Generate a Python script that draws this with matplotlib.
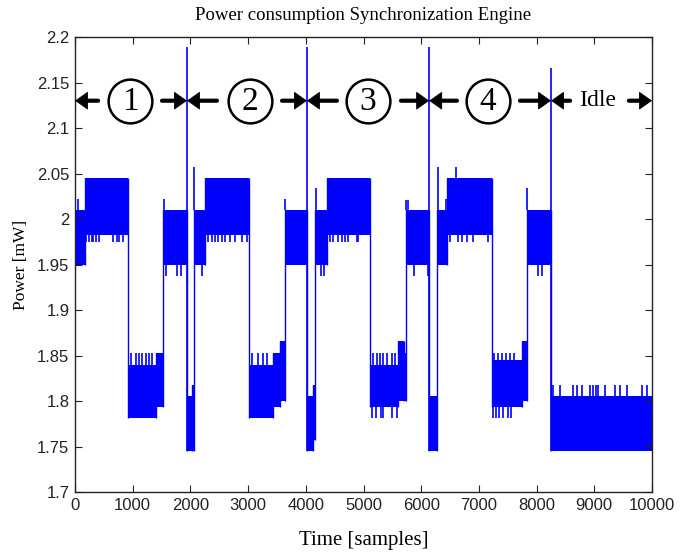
import matplotlib
matplotlib.use('Agg')
import matplotlib.pyplot as plt
from matplotlib.ticker import FixedLocator, FixedFormatter

# ---------------- data ----------------
# blocks of the (dense, oscillating) power trace: sample range and min/max power [mW]
band_start = [0, 170, 918, 1400, 1525, 1941, 2030, 2062, 2250, 3016, 3430, 3560,
              3640, 4020, 4120, 4160, 4365, 5113, 5600, 5700, 5736, 6140, 6270,
              6440, 7225, 7750, 7830, 8250]
band_end = [170, 918, 1400, 1525, 1941, 2030, 2062, 2250, 3016, 3430, 3560, 3640,
            4020, 4120, 4160, 4365, 5113, 5600, 5700, 5736, 6140, 6270, 6440,
            7225, 7750, 7830, 8250, 10000]
band_low = [1.950, 1.982, 1.781, 1.793, 1.950, 1.745, 1.745, 1.950, 1.982, 1.781, 1.793, 1.800,
            1.950, 1.745, 1.757, 1.950, 1.982, 1.793, 1.800, 1.800, 1.950, 1.745, 1.950,
            1.982, 1.793, 1.800, 1.950, 1.745]
band_high = [2.010, 2.045, 1.840, 1.853, 2.010, 1.805, 1.818, 2.010, 2.045, 1.840, 1.853, 1.866,
             2.010, 1.805, 1.818, 2.010, 2.045, 1.840, 1.866, 1.853, 2.010, 1.805, 2.010,
             2.045, 1.845, 1.866, 2.010, 1.805]

# isolated spikes of the trace
spike_x = [50, 1540, 1941, 2070, 3645, 4020, 4175, 5745, 5775, 6138, 6285, 6430, 6600, 7840, 8250]
spike_base = [2.010, 2.010, 1.745, 2.010, 2.010, 1.745, 2.010, 2.010, 2.010, 1.745, 2.010, 2.010, 2.045, 2.010, 1.745]
spike_top = [2.022, 2.022, 2.189, 2.057, 2.022, 2.189, 2.034, 2.021, 2.021, 2.189, 2.057, 2.022, 2.057, 2.034, 2.166]

# short excursions (teeth) outside the main band
tooth_x = [190, 250, 290, 320, 365, 420, 665, 720, 765, 835,
           2310, 2370, 2425, 2485, 2540, 2600, 2685, 2775, 2890, 2975,
           4420, 4480, 4560, 4620, 4680, 4730, 4890, 4905,
           6500, 6640, 6700, 6800, 6900, 7160,
           970, 1057, 1109, 1161, 1230, 1290, 1335,
           3060, 3175, 3265, 3320,
           5170, 5230, 5285, 5345, 5400, 5490, 5545,
           7260, 7330, 7400, 7470, 7540, 7610,
           5150, 5225, 5295, 5345, 5490, 5575,
           7240, 7290, 7350, 7420, 7500, 7560,
           1580, 1770, 1840, 2200, 4265, 4320, 5875, 6120, 8025, 8095,
           8285, 8405, 8630, 8700, 8785, 8925, 8975, 9030, 9065, 9185, 9360, 9445, 9565, 9825, 9915]
tooth_y0 = [1.982] * 10 + [1.982] * 10 + [1.982] * 8 + [1.982] * 6 + \
           [1.840] * 7 + [1.840] * 4 + [1.840] * 7 + [1.845] * 6 + \
           [1.793] * 6 + [1.793] * 6 + [1.950] * 10 + [1.805] * 15
tooth_y1 = [1.975] * 10 + [1.975] * 10 + [1.975] * 8 + [1.975] * 6 + \
           [1.853] * 7 + [1.853] * 4 + [1.853] * 7 + [1.853] * 6 + \
           [1.781] * 6 + [1.781] * 6 + [1.937] * 10 + [1.818] * 15

# phase annotations
phase_bounds = [0, 1941, 4020, 6138, 8250, 10000]
phase_labels = ['1', '2', '3', '4', 'Idle']

xticks = [0, 1000, 2000, 3000, 4000, 5000, 6000, 7000, 8000, 9000, 10000]
xticklabels = ['0', '1000', '2000', '3000', '4000', '5000', '6000', '7000', '8000', '9000', '10000']
yticks = [1.7, 1.75, 1.8, 1.85, 1.9, 1.95, 2.0, 2.05, 2.1, 2.15, 2.2]
yticklabels = ['1.7', '1.75', '1.8', '1.85', '1.9', '1.95', '2', '2.05', '2.1', '2.15', '2.2']

# ---------------- figure ----------------
BLUE = (0, 0, 1)
serif = ['Liberation Serif', 'DejaVu Serif']
sans = ['Liberation Sans', 'DejaVu Sans']

fig = plt.figure(figsize=(6.81, 5.56), dpi=100)
ax = fig.add_axes([75 / 681, 1 - 492 / 556, (652 - 75) / 681, (492 - 37) / 556])

# bands
widths = [e - s for s, e in zip(band_start, band_end)]
heights = [h - l for l, h in zip(band_low, band_high)]
ax.bar(band_start, heights, width=widths, bottom=band_low, align='edge',
       color=BLUE, linewidth=0)
# transitions between bands
for i in range(len(band_start) - 1):
    lo = min(band_low[i], band_low[i + 1])
    hi = max(band_high[i], band_high[i + 1])
    ax.vlines(band_end[i], lo, hi, color=BLUE, lw=1.0)
# spikes and teeth
ax.vlines(spike_x, spike_base, spike_top, color=BLUE, lw=1.2)
ax.vlines(tooth_x, tooth_y0, tooth_y1, color=BLUE, lw=1.2)

ax.set_xlim(0, 10000)
ax.set_ylim(1.7, 2.2)

# phase arrows
ya = 2.13
head_kw = dict(arrowstyle='-|>,head_length=8.5,head_width=6', mutation_scale=1,
               color='black', lw=0.6, shrinkA=0, shrinkB=0, joinstyle='miter')
shaft_kw = dict(arrowstyle='-', color='black', lw=3.0, shrinkA=0, shrinkB=0)
head_len = 180  # samples covered by the arrow head
inner_left = [400, 2461, 4540, 6620, 8580]
inner_right = [1508, 3588, 5650, 7712, 9600]
centers = [960, 3030, 5080, 7160, 9065]
for k in range(5):
    a, b = phase_bounds[k], phase_bounds[k + 1]
    for tip, inner, sgn in ((a, inner_left[k], 1), (b, inner_right[k], -1)):
        ax.annotate('', xy=(tip + sgn * head_len * 0.9, ya), xytext=(inner, ya),
                    arrowprops=shaft_kw, annotation_clip=False)
        ax.annotate('', xy=(tip, ya), xytext=(tip + sgn * head_len * 1.3, ya),
                    arrowprops=head_kw, annotation_clip=False)
    if phase_labels[k] == 'Idle':
        ax.text(centers[k], ya, phase_labels[k], ha='center', va='center',
                fontsize=17, family=serif)
    else:
        ax.plot(centers[k], ya, 'o', ms=31.5, mfc='white', mec='black', mew=1.8)
        ax.text(centers[k], ya - 0.001, phase_labels[k], ha='center', va='center',
                fontsize=24, family=serif)

# axes style (MATLAB-like)
ax.xaxis.set_major_locator(FixedLocator(xticks))
ax.xaxis.set_major_formatter(FixedFormatter(xticklabels))
ax.yaxis.set_major_locator(FixedLocator(yticks))
ax.yaxis.set_major_formatter(FixedFormatter(yticklabels))
ax.tick_params(direction='in', top=True, right=True, length=5, width=0.8,
               labelsize=12, colors='#222222', pad=4)
for lab in ax.get_xticklabels() + ax.get_yticklabels():
    lab.set_family(sans)
for sp in ax.spines.values():
    sp.set_color('#222222')
    sp.set_linewidth(1.0)

ax.set_title('Power consumption Synchronization Engine', fontsize=13.5,
             family=serif, pad=12)
ax.set_xlabel('Time [samples]', fontsize=15, family=serif, labelpad=13)
ax.set_ylabel('Power [mW]', fontsize=12.5, family=serif, labelpad=6)

fig.savefig('out.png', dpi=100)
